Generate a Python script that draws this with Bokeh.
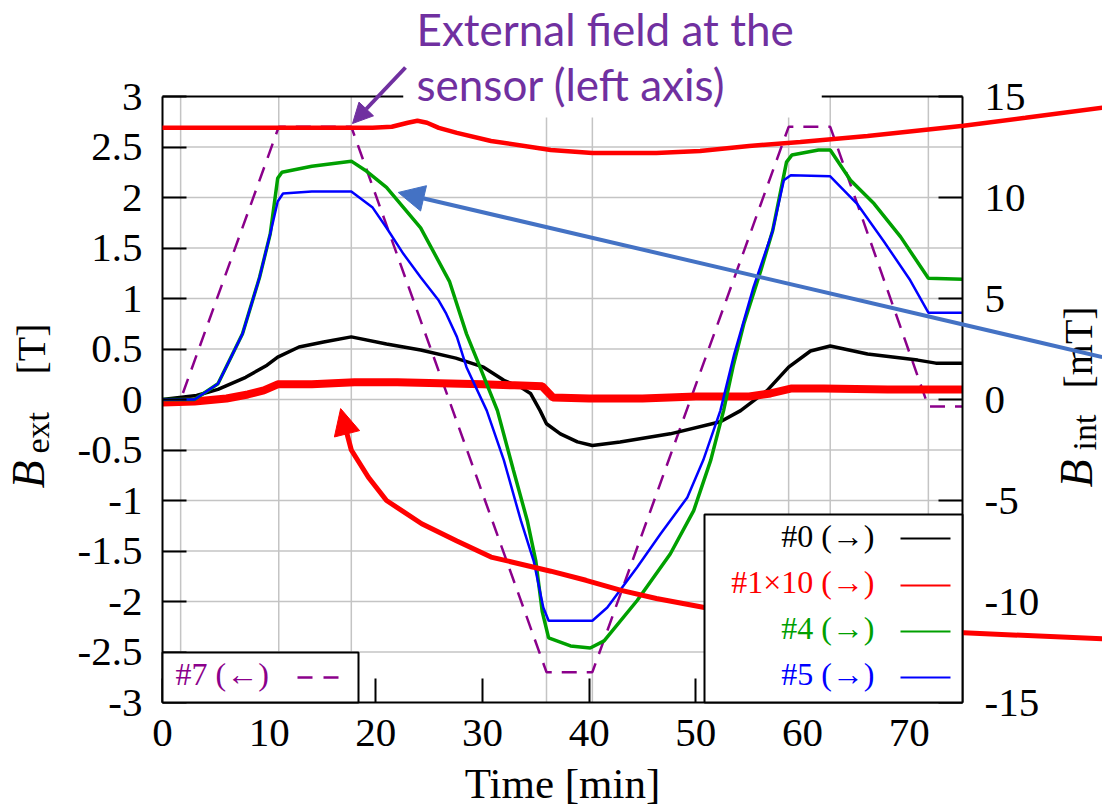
import numpy as np
from bokeh.plotting import figure
from bokeh.models import (Range1d, LinearAxis, FixedTicker, Label, Arrow, NormalHead,
                          BoxAnnotation)
from bokeh.embed import file_html
from bokeh.resources import INLINE

# ---------------- data (time in minutes) ----------------
# #7 : external field B_ext [T] (left axis), dashed
t7 = [0, 1.7, 10.9, 17.7, 36.0, 40.3, 58.7, 62.6, 71.8, 75.0]
b7 = [0, 0, 2.7, 2.7, -2.7, -2.7, 2.7, 2.7, -0.07, -0.07]
grid_times = [1.7, 10.9, 17.7, 36.0, 40.3, 58.7, 62.6, 71.8]

# #0 : B_int [mT] (right axis)
t0 = [0, 3.2, 5.2, 7.8, 9.8, 10.8, 12.8, 15.1, 17.7, 21.0, 24.2, 27.5, 30.1, 32.0, 33.6,
      34.5, 35.4, 36.0, 37.3, 38.9, 40.3, 42.9, 47.6, 52.3, 54.2, 56.7, 58.7, 60.75, 62.6,
      66.1, 70.8, 72.5, 75.0]
b0 = [0, 0.2, 0.5, 1.1, 1.7, 2.1, 2.6, 2.85, 3.1, 2.75, 2.45, 2.05, 1.6, 0.95, 0.6,
      0.3, -0.55, -1.2, -1.7, -2.1, -2.275, -2.1, -1.7, -1.1, -0.55, 0.45, 1.6, 2.4, 2.65,
      2.25, 1.95, 1.8, 1.8]

# #1 x10 : B_int [mT] (right axis)
t1 = [0, 3, 6, 8, 9.5, 10.8, 14, 18, 22, 26, 30, 33, 35.6, 36.6, 40, 45, 50, 55, 57,
      59, 62, 68, 75]
b1 = [-0.15, -0.1, 0.05, 0.25, 0.45, 0.75, 0.75, 0.85, 0.85, 0.8, 0.75, 0.7, 0.65, 0.1,
      0.05, 0.05, 0.15, 0.15, 0.3, 0.55, 0.55, 0.5, 0.5]

# #4 : B_int [mT] (right axis)
t4 = [0, 3.0, 5.2, 7.5, 9.1, 10.1, 10.8, 11.2, 14.0, 17.7, 19.0, 21.0, 24.2, 26.9, 28.5,
      29.5, 31.4, 32.9, 34.2, 35.0, 35.6, 36.2, 38.25, 40.1, 41.4, 44.5, 47.6, 49.8, 51.4,
      52.6, 53.5, 54.5, 56.1, 57.2, 58.5, 59.0, 61.5, 62.6, 64.5, 66.7, 69.2, 71.8, 75.0]
b4 = [0, 0, 0.78, 3.25, 6.05, 8.2, 10.95, 11.25, 11.55, 11.8, 11.35, 10.5, 8.5, 5.85, 3.25,
      1.95, -0.55, -3.5, -6.0, -8.0, -10.5, -11.8, -12.2, -12.3, -11.95, -9.95, -7.65, -5.5,
      -3.0, -0.55, 1.65, 3.75, 6.4, 8.35, 11.75, 12.1, 12.35, 12.35, 10.85, 9.7, 8.05, 6.0, 5.95]

# #5 : B_int [mT] (right axis)
t5 = [0, 3.0, 5.2, 7.5, 9.1, 10.1, 10.8, 11.3, 14.0, 17.7, 19.7, 21.0, 22.6, 24.2, 25.9,
      26.6, 27.6, 28.5, 30.4, 32.0, 33.6, 34.8, 35.7, 36.2, 40.3, 41.7, 44.5, 46.7, 49.2,
      50.7, 52.3, 53.6, 55.4, 57.2, 58.25, 58.9, 62.6, 65.1, 67.6, 70.1, 71.8, 75.0]
b5 = [0, 0, 0.78, 3.25, 6.05, 8.2, 9.8, 10.2, 10.3, 10.3, 9.5, 8.5, 7.2, 6.05, 4.9,
      4.25, 3.1, 1.6, -0.55, -3.0, -6.0, -8.0, -10.3, -10.95, -10.95, -10.3, -8.3, -6.65,
      -4.85, -3.0, -0.55, 2.25, 5.55, 8.35, 10.85, 11.1, 11.05, 9.7, 7.85, 5.9, 4.3, 4.3]

x_ticks = [0, 10, 20, 30, 40, 50, 60, 70]
y_ticks_left = [-3, -2.5, -2, -1.5, -1, -0.5, 0, 0.5, 1, 1.5, 2, 2.5, 3]
y_labels_left = ["-3", "-2.5", "-2", "-1.5", "-1", "-0.5", "0", "0.5", "1", "1.5", "2", "2.5", "3"]
y_ticks_right = [-15, -10, -5, 0, 5, 10, 15]
y_labels_right = ["-15", "-10", "-5", "0", "5", "10", "15"]

# hand-drawn overlay curves (left-axis units)
ext_t = [0, 19.7, 21.5, 23.0, 23.9, 24.8, 25.9, 27.6, 30.8, 36.4, 40.3, 46.3, 50.4, 55.0,
         59.8, 66.1, 75.1, 80.9, 88.1]
ext_b = [2.69, 2.69, 2.70, 2.74, 2.76, 2.74, 2.69, 2.64, 2.56, 2.47, 2.44, 2.44, 2.46, 2.51,
         2.55, 2.61, 2.71, 2.79, 2.89]
arc_t = [17.25, 17.7, 19.3, 21.0, 24.3, 27.6, 30.8, 36.4, 39.7, 43.0, 46.3, 50.8, 56.2, 62.8,
         69.4, 75.1, 88.1]
arc_b = [-0.32, -0.5, -0.77, -1.0, -1.23, -1.40, -1.56, -1.70, -1.79, -1.89, -1.97, -2.06,
         -2.15, -2.24, -2.29, -2.31, -2.37]

# ---------------- layout (pixel box of the plotting area) ----------------
W, H = 1102, 808
FX0, FX1, FY0, FY1 = 162, 962, 96, 702
XMIN, XMAX, YMIN, YMAX = 0.0, 75.0, -3.0, 3.0
kx = (XMAX - XMIN) / (FX1 - FX0)
ky = (YMAX - YMIN) / (FY1 - FY0)


def tx(px):
    return XMIN + (px - FX0) * kx


def ty(py):
    return YMAX - (py - FY0) * ky


SERIF = "Liberation Serif"
PURPLE = "#8B008B"
NOTE = "#7030A0"
K_SERIF = 0.36   # shift from wanted baseline to label anchor (fraction of font size)
K_LATO = 0.38

p = figure(width=W, height=H,
           x_range=Range1d(tx(0), tx(W)), y_range=Range1d(ty(H), ty(0)),
           x_axis_type=None, y_axis_type=None,
           output_backend="svg", toolbar_location=None, min_border=0,
           outline_line_color=None, background_fill_color="white", border_fill_color="white")
p.extra_y_ranges = {"mT": Range1d(ty(H) * 5, ty(0) * 5)}

xa = LinearAxis(fixed_location=YMIN, bounds=(XMIN, XMAX), ticker=FixedTicker(ticks=x_ticks))
ya = LinearAxis(fixed_location=XMIN, bounds=(YMIN, YMAX), ticker=FixedTicker(ticks=y_ticks_left))
ra = LinearAxis(y_range_name="mT", fixed_location=XMAX, bounds=(-15, 15),
                ticker=FixedTicker(ticks=y_ticks_right))
ya.major_label_overrides = {float(k): v for k, v in zip(y_ticks_left, y_labels_left)}
ra.major_label_overrides = {float(k): v for k, v in zip(y_ticks_right, y_labels_right)}
p.add_layout(xa, "below")
p.add_layout(ya, "left")
p.add_layout(ra, "right")
for ax in (xa, ya, ra):
    ax.axis_line_color = "black"
    ax.axis_line_width = 2
    ax.major_tick_in = 24
    ax.major_tick_out = 0
    ax.major_tick_line_color = "black"
    ax.major_tick_line_width = 2
    ax.minor_tick_line_color = None
    ax.major_label_text_font = SERIF
    ax.major_label_text_font_size = "41px"
    ax.major_label_text_color = "black"
xa.major_label_standoff = 17
ya.major_label_standoff = 20
ra.major_label_standoff = 22

# grid lines (inside plotting area only)
gy = y_ticks_left[1:-1]
p.segment(x0=[XMIN] * len(gy), y0=gy, x1=[XMAX] * len(gy), y1=gy,
          line_color="#c4c4c4", line_width=1.5, level="underlay")
p.segment(x0=grid_times, y0=[YMIN] * len(grid_times), x1=grid_times, y1=[YMAX] * len(grid_times),
          line_color="#c4c4c4", line_width=1.5, level="underlay")

# ---------------- data curves ----------------
p.line(t7, b7, line_color=PURPLE, line_width=2.5, line_dash="15 10")
p.line(t0, b0, y_range_name="mT", line_color="black", line_width=3.5)
p.line(t1, b1, y_range_name="mT", line_color="#FF0000", line_width=8)
p.line(t4, b4, y_range_name="mT", line_color="#00A000", line_width=3.5)
p.line(t5, b5, y_range_name="mT", line_color="#0000FF", line_width=2.5)

# white background behind the note text (interrupts the top frame)
p.add_layout(BoxAnnotation(left=tx(403), right=tx(821), bottom=ty(117), top=ty(0),
                           fill_color="white", fill_alpha=1, line_color=None))
# top frame line (two parts)
p.segment(x0=[XMIN, tx(821)], y0=[YMAX, YMAX], x1=[tx(403), XMAX], y1=[YMAX, YMAX],
          line_color="black", line_width=2)


def hlabel(px, base_py, text, size, color, align="left", font=SERIF, k=K_SERIF, style="normal"):
    p.add_layout(Label(x=tx(px), y=ty(base_py - k * size), text=text, text_font=font,
                       text_font_size=f"{size}px", text_color=color, text_align=align,
                       text_baseline="alphabetic", text_font_style=style))


def vlabel(base_px, start_py, text, size, style="normal"):
    p.add_layout(Label(x=tx(base_px - K_SERIF * size), y=ty(start_py), text=text, angle=np.pi / 2,
                       text_font=SERIF, text_font_size=f"{size}px", text_color="black",
                       text_font_style=style, text_align="left", text_baseline="alphabetic"))


# ---------------- legends ----------------
p.add_layout(BoxAnnotation(left=XMIN, right=tx(358), bottom=YMIN, top=ty(652),
                           fill_color="white", fill_alpha=1, line_color="black",
                           line_alpha=1, line_width=2))
hlabel(175, 685, "#7 (\u2190)", 32, PURPLE)
p.add_layout(Arrow(x_start=tx(297), y_start=ty(677), x_end=tx(340), y_end=ty(677), end=None,
                   line_color=PURPLE, line_width=2.5, line_dash="15 11"))

p.add_layout(BoxAnnotation(left=tx(704), right=XMAX, bottom=YMIN, top=ty(514),
                           fill_color="white", fill_alpha=1, line_color="black",
                           line_alpha=1, line_width=2))
leg_items = [("#0 (\u2192)", "black", 547, 538),
             ("#1\u00d710 (\u2192)", "#FF0000", 593, 585),
             ("#4 (\u2192)", "#00A000", 639, 631),
             ("#5 (\u2192)", "#0000FF", 685, 677)]
for txt, col, yb, yl in leg_items:
    hlabel(874, yb, txt, 32, col, align="right")
    p.add_layout(Arrow(x_start=tx(900), y_start=ty(yl), x_end=tx(950), y_end=ty(yl), end=None,
                       line_color=col, line_width=2))

# ---------------- axis titles ----------------
hlabel(562, 798, "Time [min]", 43, "black", align="center")

vlabel(45, 488, "B", 46, style="italic")
vlabel(49, 453, "ext", 34)
vlabel(45, 374, "[T]", 40)

vlabel(1093, 487, "B", 46, style="italic")
vlabel(1096, 450, "int", 34)
vlabel(1092, 388, "[mT]", 40)

# ---------------- overlay notes ----------------
p.line(ext_t, ext_b, line_color="#FF0000", line_width=4.5, level="annotation")

p.add_layout(Arrow(x_start=tx(405), y_start=ty(67), x_end=tx(352), y_end=ty(123),
                   line_color=NOTE, line_width=4,
                   end=NormalHead(size=20, fill_color=NOTE, line_color=NOTE, line_width=1)))

p.add_layout(Arrow(x_start=88.1, y_start=0.42, x_end=22.1, y_end=2.05,
                   line_color="#4472C4", line_width=4,
                   end=NormalHead(size=26, fill_color="#4472C4", line_color="#4472C4",
                                  line_width=1)))

p.line(arc_t, arc_b, line_color="#FF0000", line_width=5, level="annotation")
p.add_layout(Arrow(x_start=arc_t[0], y_start=arc_b[0], x_end=16.7, y_end=-0.09,
                   line_color="#FF0000", line_width=5,
                   end=NormalHead(size=26, fill_color="#FF0000", line_color="#FF0000",
                                  line_width=1)))

hlabel(416, 45, "External field at the", 44, NOTE, font="Lato", k=K_LATO)
hlabel(416, 100, "sensor (left axis)", 44, NOTE, font="Lato", k=K_LATO)

open("out.html", "w").write(file_html(p, INLINE))
